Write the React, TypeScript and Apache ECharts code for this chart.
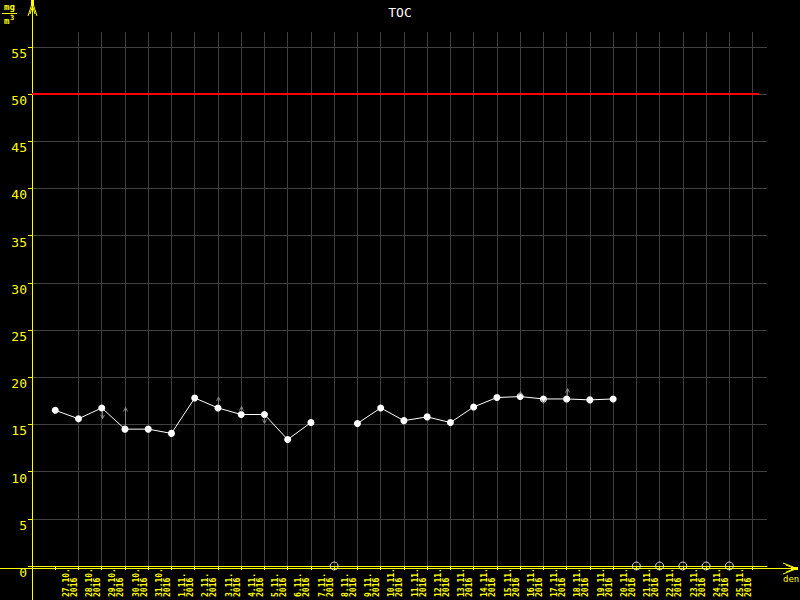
import React, { useEffect, useRef } from 'react';
import * as echarts from 'echarts';

// ---- data ----
const dates = [
  '27.10.', '28.10.', '29.10.', '30.10.', '31.10.',
  '1.11.', '2.11.', '3.11.', '4.11.', '5.11.', '6.11.', '7.11.', '8.11.', '9.11.', '10.11.',
  '11.11.', '12.11.', '13.11.', '14.11.', '15.11.', '16.11.', '17.11.', '18.11.', '19.11.', '20.11.',
  '21.11.', '22.11.', '23.11.', '24.11.', '25.11.',
];
const year = '2016';
const tocValues: (number | null)[] = [
  16.5, 15.6, 16.75, 14.5, 14.5, 14.05, 17.8, 16.75, 16.05, 16.05, 13.4, 15.2, null,
  15.1, 16.75, 15.4, 15.8, 15.2, 16.85, 17.85, 17.95, 17.7, 17.7, 17.6, 17.7,
];
const missingIdx = [12, 25, 26, 27, 28, 29];
const arrowIdx = [2, 3, 7, 8, 9, 20, 21, 22];
const arrowTip = [15.6, 16.8, 17.9, 16.9, 15.1, 18.5, 17.2, 18.8];
const limitValue = 50;
const limitSpan = [-1, 30.27];
const yTicks = [0, 5, 10, 15, 20, 25, 30, 35, 40, 45, 50, 55];
const xTicks = dates.map((_, i) => i).concat([dates.length]);
const xLabelPos = dates.map((_, i) => i + 1);

const YELLOW = '#ffff00';
const GRID = '#404040';
const FONT = 'DejaVu Sans Mono';

export default function App() {
  const ref = useRef<HTMLDivElement>(null);
  useEffect(() => {
    if (!ref.current) return;
    const chart = echarts.init(ref.current, null, { renderer: 'svg' });
    const xSplitColors = ['transparent', ...xTicks.map(() => GRID), 'transparent'];
    const ySplitColors = [...yTicks.map(() => GRID), 'transparent'];
    const option: any = {
      animation: false,
      backgroundColor: '#000',
      title: {
        text: 'TOC', left: 'center', top: 1,
        textStyle: { color: '#ffffff', fontSize: 13, fontWeight: 'normal', fontFamily: FONT },
      },
      grid: { left: 32, right: 33, top: 32, bottom: 32 },
      xAxis: {
        type: 'value', min: -1, max: 30.62, interval: 1,
        axisLine: { show: true, onZero: false, lineStyle: { color: YELLOW, width: 1 } },
        axisTick: { show: true, customValues: xTicks, length: 4, lineStyle: { color: YELLOW } },
        axisLabel: {
          customValues: xLabelPos,
          formatter: (v: number) => dates[Math.round(v) - 1] + '\n' + year,
          rotate: 90, align: 'left', verticalAlign: 'bottom', margin: 31,
          color: YELLOW, fontSize: 8, lineHeight: 8, fontFamily: FONT, fontWeight: 'bold',
        },
        splitLine: { show: true, lineStyle: { color: xSplitColors, width: 1 } },
      },
      yAxis: {
        type: 'value', min: 0, max: 56.58, interval: 5,
        axisLine: { show: true, onZero: false, lineStyle: { color: YELLOW, width: 1 } },
        axisTick: { show: true, customValues: yTicks, length: 4, lineStyle: { color: YELLOW } },
        axisLabel: {
          customValues: yTicks, color: YELLOW, fontSize: 13, fontFamily: FONT,
          verticalAlign: 'top', margin: 5,
        },
        splitLine: { show: true, lineStyle: { color: ySplitColors, width: 1 } },
      },
      graphic: [
        { type: 'line', shape: { x1: 32.5, y1: 0, x2: 32.5, y2: 600 }, style: { stroke: YELLOW, lineWidth: 1 }, z: 1 },
        { type: 'line', shape: { x1: 0, y1: 568.5, x2: 797, y2: 568.5 }, style: { stroke: YELLOW, lineWidth: 1 }, z: 1 },
        { type: 'polyline', shape: { points: [[28, 16], [32.5, 2], [37, 16]] }, style: { stroke: YELLOW, fill: null, lineWidth: 1 }, z: 1 },
        { type: 'polyline', shape: { points: [[30, 14], [32.5, 6], [35, 14]] }, style: { stroke: YELLOW, fill: null, lineWidth: 1 }, z: 1 },
        { type: 'rect', shape: { x: 31, y: 0, width: 3, height: 6 }, style: { fill: YELLOW }, z: 1 },
        { type: 'polyline', shape: { points: [[783, 563], [797, 568.5], [783, 574]] }, style: { stroke: YELLOW, fill: null, lineWidth: 1 }, z: 1 },
        { type: 'polyline', shape: { points: [[786, 565], [795, 568.5], [786, 572]] }, style: { stroke: YELLOW, fill: null, lineWidth: 1 }, z: 1 },
        { type: 'rect', shape: { x: 791, y: 567, width: 7, height: 3 }, style: { fill: YELLOW }, z: 1 },
        { type: 'text', x: 783, y: 574, style: { text: 'den', fill: YELLOW, fontSize: 9, fontFamily: FONT } },
        { type: 'text', x: 4, y: 2, style: { text: 'mg', fill: YELLOW, fontSize: 9, fontFamily: FONT, fontWeight: 'bold' } },
        { type: 'line', shape: { x1: 2, y1: 13.5, x2: 17, y2: 13.5 }, style: { stroke: YELLOW, lineWidth: 1 } },
        { type: 'text', x: 4, y: 16, style: { text: 'm', fill: YELLOW, fontSize: 9, fontFamily: FONT, fontWeight: 'bold' } },
        { type: 'text', x: 10, y: 14, style: { text: '3', fill: YELLOW, fontSize: 7, fontFamily: FONT, fontWeight: 'bold' } },
      ],
      series: [
        {
          type: 'line',
          data: [[limitSpan[0], limitValue], [limitSpan[1], limitValue]],
          symbol: 'none', lineStyle: { color: '#ff0000', width: 2 }, z: 3, silent: true,
        },
        {
          type: 'line',
          data: tocValues.map((v, i) => [i, v]),
          connectNulls: false,
          symbol: 'circle', symbolSize: 7, showSymbol: true,
          itemStyle: { color: '#ffffff' },
          lineStyle: { color: '#ffffff', width: 1 },
          z: 4,
        },
        {
          type: 'custom',
          data: arrowIdx.map((idx, k) => [idx, tocValues[idx] as number, arrowTip[k]]),
          renderItem: (params: any, api: any) => {
            const base = api.coord([api.value(0), api.value(1)]);
            const tip = api.coord([api.value(0), api.value(2)]);
            const dir = tip[1] < base[1] ? -1 : 1;
            const x = Math.round(base[0]) + 0.5;
            return {
              type: 'group',
              children: [
                { type: 'line', shape: { x1: x, y1: base[1] + dir * 3, x2: x, y2: tip[1] }, style: { stroke: '#808080', lineWidth: 1 } },
                { type: 'polyline', shape: { points: [[x - 2, tip[1] - dir * 4], [x, tip[1]], [x + 2, tip[1] - dir * 4]] }, style: { stroke: '#808080', fill: null, lineWidth: 1 } },
              ],
            };
          },
          z: 5,
        },
        {
          type: 'scatter',
          data: missingIdx.map((i) => [i, 0]),
          symbol: 'circle', symbolSize: 8, clip: false,
          itemStyle: { color: 'transparent', borderColor: '#ffffff', borderWidth: 1 },
          z: 5,
        },
      ],
    };
    chart.setOption(option);
    return () => chart.dispose();
  }, []);
  return <div ref={ref} style={{ position: 'absolute', left: 0, top: 0, width: 800, height: 600 }} />;
}
